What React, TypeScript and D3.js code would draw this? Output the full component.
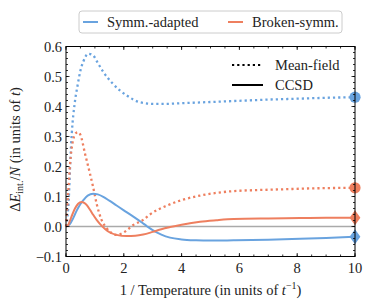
import React from "react";
import * as d3 from "d3";

// ---- data ----
const mfSymmX = [0, 0.05, 0.1, 0.15, 0.2, 0.3, 0.4, 0.5, 0.6, 0.77, 0.94, 1.1, 1.3, 1.6, 2.1, 2.56, 3.0, 3.5, 4, 5, 6, 7, 8, 9, 10];
const mfSymmY = [0, 0.03, 0.1, 0.22, 0.31, 0.41, 0.47, 0.52, 0.55, 0.576, 0.57, 0.545, 0.514, 0.478, 0.437, 0.414, 0.409, 0.409, 0.411, 0.415, 0.419, 0.423, 0.426, 0.429, 0.431];

const mfBrokenX = [0, 0.08, 0.16, 0.25, 0.35, 0.43, 0.5, 0.66, 0.83, 0.94, 1.06, 1.23, 1.4, 1.55, 1.75, 1.95, 2.1, 2.33, 2.67, 2.9, 3.5, 4, 4.64, 5.2, 5.8, 6.5, 7.5, 8.5, 10];
const mfBrokenY = [0, 0.12, 0.23, 0.29, 0.312, 0.314, 0.305, 0.242, 0.176, 0.131, 0.076, 0.022, -0.005, -0.02, -0.028, -0.022, -0.013, 0.005, 0.022, 0.04, 0.07, 0.088, 0.103, 0.112, 0.118, 0.121, 0.124, 0.127, 0.129];

const ccSymmX = [0, 0.14, 0.25, 0.37, 0.5, 0.6, 0.75, 0.94, 1.1, 1.29, 1.5, 1.75, 2.0, 2.33, 2.6, 2.8, 3.0, 3.3, 3.6, 4.0, 4.5, 5.0, 5.8, 7, 8.1, 9, 10];
const ccSymmY = [0, 0.009, 0.028, 0.053, 0.075, 0.088, 0.103, 0.109, 0.107, 0.099, 0.086, 0.07, 0.054, 0.033, 0.015, 0.001, -0.012, -0.027, -0.037, -0.043, -0.046, -0.047, -0.046, -0.044, -0.041, -0.038, -0.034];

const ccBrokenX = [0, 0.08, 0.14, 0.22, 0.31, 0.42, 0.54, 0.63, 0.72, 0.83, 0.94, 1.06, 1.18, 1.35, 1.52, 1.75, 2.1, 2.4, 2.67, 3.0, 3.3, 3.6, 4.0, 4.64, 5.2, 5.8, 7, 8.1, 9, 10];
const ccBrokenY = [0, 0.006, 0.02, 0.04, 0.06, 0.076, 0.082, 0.079, 0.071, 0.056, 0.039, 0.022, 0.008, -0.008, -0.02, -0.028, -0.032, -0.031, -0.027, -0.018, -0.009, -0.002, 0.006, 0.016, 0.021, 0.025, 0.027, 0.028, 0.029, 0.029];

const xTicks = [0, 2, 4, 6, 8, 10];
const yTicks = [-0.1, 0, 0.1, 0.2, 0.3, 0.4, 0.5, 0.6];
const seriesNames = ["Symm.-adapted", "Broken-symm."];
const methodNames = ["Mean-field", "CCSD"];

const BLUE = "#69a3df";
const ORANGE = "#ee7f5f";
const FONT = "'Liberation Serif', serif";

export default function App() {
  const L = 66, R = 355, T = 46.5, B = 256.5;
  const x = d3.scaleLinear().domain([0, 10]).range([L, R]);
  const y = d3.scaleLinear().domain([-0.1, 0.6]).range([B, T]);

  const mk = (xs: number[], ys: number[]) =>
    d3.line<number>().x((_, i) => x(xs[i])).y((d) => y(d)).curve(d3.curveMonotoneX)(ys) || "";

  const xMinor = d3.range(0, 10.001, 0.5);
  const yMinor = d3.range(-0.1, 0.6001, 0.02);

  const dotted = { strokeDasharray: "2.2,3", strokeWidth: 2.3, fill: "none" };
  const solid = { strokeWidth: 2, fill: "none" };

  const last = (a: number[]) => a[a.length - 1];
  const diamond = (cx: number, cy: number, s: number) =>
    `M${cx},${cy - s}L${cx + s * 0.72},${cy}L${cx},${cy + s}L${cx - s * 0.72},${cy}Z`;

  return (
    <svg width={373} height={308} style={{ position: "absolute", left: 0, top: 0 }} fontFamily={FONT}>
      <rect width={373} height={308} fill="white" />
      {/* zero line */}
      <line x1={L} x2={R} y1={y(0)} y2={y(0)} stroke="#aaaaaa" strokeWidth={1.6} />
      {/* curves */}
      <path d={mk(mfSymmX, mfSymmY)} stroke={BLUE} {...dotted} />
      <path d={mk(mfBrokenX, mfBrokenY)} stroke={ORANGE} {...dotted} />
      <path d={mk(ccSymmX, ccSymmY)} stroke={BLUE} {...solid} />
      <path d={mk(ccBrokenX, ccBrokenY)} stroke={ORANGE} {...solid} />
      {/* end markers */}
      <circle cx={x(last(mfSymmX))} cy={y(last(mfSymmY))} r={5.6} fill={BLUE} />
      <circle cx={x(last(mfBrokenX))} cy={y(last(mfBrokenY))} r={5.6} fill={ORANGE} />
      <path d={diamond(x(last(ccSymmX)), y(last(ccSymmY)), 7.5)} fill={BLUE} />
      <path d={diamond(x(last(ccBrokenX)), y(last(ccBrokenY)), 7.5)} fill={ORANGE} />

      {/* ticks */}
      {xMinor.map((v, i) => (
        <g key={"xm" + i} stroke="black" strokeWidth={0.8}>
          <line x1={x(v)} x2={x(v)} y1={B} y2={B - 2} />
          <line x1={x(v)} x2={x(v)} y1={T} y2={T + 2} />
        </g>
      ))}
      {xTicks.map((v) => (
        <g key={"x" + v}>
          <line x1={x(v)} x2={x(v)} y1={B} y2={B - 3.5} stroke="black" strokeWidth={0.8} />
          <line x1={x(v)} x2={x(v)} y1={T} y2={T + 3.5} stroke="black" strokeWidth={0.8} />
          <text x={x(v)} y={273} textAnchor="middle" fontSize={14.5} fill="#222">
            {d3.format("d")(v)}
          </text>
        </g>
      ))}
      {yMinor.map((v, i) => (
        <g key={"ym" + i} stroke="black" strokeWidth={0.8}>
          <line x1={L} x2={L + 2} y1={y(v)} y2={y(v)} />
          <line x1={R} x2={R - 2} y1={y(v)} y2={y(v)} />
        </g>
      ))}
      {yTicks.map((v) => (
        <g key={"y" + v}>
          <line x1={L} x2={L + 3.5} y1={y(v)} y2={y(v)} stroke="black" strokeWidth={0.8} />
          <line x1={R} x2={R - 3.5} y1={y(v)} y2={y(v)} stroke="black" strokeWidth={0.8} />
          <text x={62} y={y(v) + 5} textAnchor="end" fontSize={14.5} fill="#222">
            {v < 0 ? "\u2212" + d3.format(".1f")(-v) : d3.format(".1f")(v)}
          </text>
        </g>
      ))}
      {/* frame */}
      <rect x={L} y={T} width={R - L} height={B - T} fill="none" stroke="black" strokeWidth={1} />

      {/* axis titles */}
      <text x={(L + R) / 2} y={295} textAnchor="middle" fontSize={14.5} fill="#222">
        1 / Temperature (in units of <tspan fontStyle="italic">t</tspan>
        <tspan fontSize={10} dy={-6}>{"\u22121"}</tspan>
        <tspan dy={6}>)</tspan>
      </text>
      <text transform={`translate(19.5,${(T + B) / 2 - 2}) rotate(-90)`} textAnchor="middle" fontSize={14.5} fill="#222">
        Δ<tspan fontStyle="italic">E</tspan>
        <tspan fontSize={10} dy={3}>int.</tspan>
        <tspan dy={-3}>/</tspan>
        <tspan fontStyle="italic">N</tspan> (in units of <tspan fontStyle="italic">t</tspan>)
      </text>

      {/* top legend */}
      <rect x={79} y={11} width={263} height={22} rx={3} fill="white" stroke="#cccccc" strokeWidth={1} />
      <line x1={83} x2={98} y1={22} y2={22} stroke={BLUE} strokeWidth={2} />
      <text x={107} y={27} fontSize={14.5} fill="#222">{seriesNames[0]}</text>
      <line x1={228} x2={243} y1={22} y2={22} stroke={ORANGE} strokeWidth={2} />
      <text x={252} y={27} fontSize={14.5} fill="#222">{seriesNames[1]}</text>

      {/* inner legend */}
      <line x1={232} x2={263} y1={65} y2={65} stroke="black" {...dotted} strokeWidth={2} />
      <text x={275} y={70} fontSize={14.5} fill="#222">{methodNames[0]}</text>
      <line x1={232} x2={263} y1={85} y2={85} stroke="black" strokeWidth={2} />
      <text x={275} y={90} fontSize={14.5} fill="#222">{methodNames[1]}</text>
    </svg>
  );
}
